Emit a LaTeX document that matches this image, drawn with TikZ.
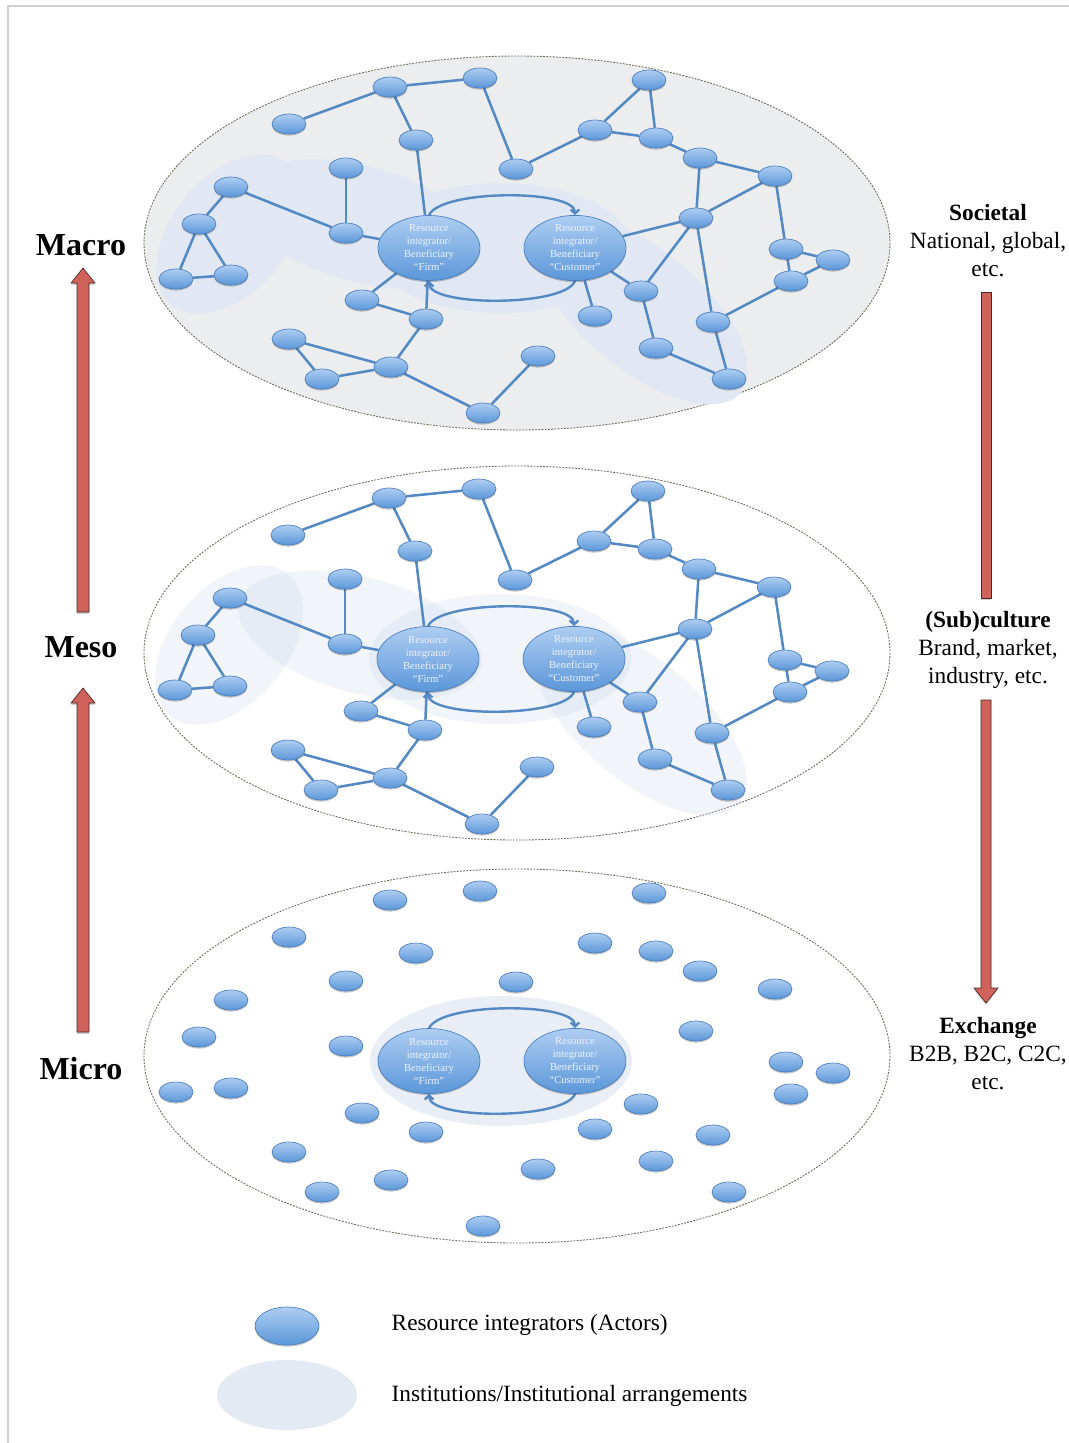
\documentclass[tikz,border=0pt]{standalone}
\usepackage{fontspec}
\setmainfont{Liberation Serif}
\usetikzlibrary{shapes.geometric, arrows.meta, shadows}

\definecolor{actTop}{HTML}{AECDF2}
\definecolor{actBot}{HTML}{5B97D9}
\definecolor{actEdge}{HTML}{4A7EBE}
\definecolor{linkBlue}{HTML}{5489C4}
\definecolor{labelWhite}{HTML}{EEF3FB}
\definecolor{macroGray}{HTML}{ECEDEF}
\definecolor{instBlue}{HTML}{E1E8F3}
\definecolor{instTint}{HTML}{C9D6EA}
\definecolor{legendInst}{HTML}{E4EAF4}
\definecolor{rimDash}{HTML}{6B6752}
\definecolor{levelRed}{HTML}{CF625A}
\definecolor{levelEdge}{HTML}{4A2A26}
\definecolor{frameGray}{HTML}{D0D0D0}

\pgfdeclarelayer{back}
\pgfdeclarelayer{wires}
\pgfsetlayers{back,wires,main}

\tikzset{
  actor/.style={ellipse, minimum width=25.5pt, minimum height=15pt, inner sep=0pt,
    draw=actEdge, line width=0.5pt, top color=actTop, bottom color=actBot,
    drop shadow={shadow xshift=0pt, shadow yshift=-1.2pt, fill=black, opacity=0.22}},
  integrator/.style={actor, minimum width=76.5pt, minimum height=45pt, align=center,
    font=\fontsize{8}{9.75}\selectfont, text=labelWhite},
  link/.style={draw=linkBlue, line width=1.9pt},
  cyclearc/.style={draw=linkBlue, line width=1.8pt, -{Straight Barb[length=3pt,width=6.5pt]}},
  rim/.style={draw=rimDash, line width=0.65pt, dash pattern=on 1.4pt off 1pt},
  instsolid/.style={fill=instBlue},
  insttint/.style={fill=instTint, fill opacity=0.25},
  levelarrow/.style={fill=levelRed, draw=levelEdge, line width=0.5pt,
    drop shadow={shadow xshift=0pt, shadow yshift=-1.5pt, fill=black, opacity=0.18}},
  heading/.style={font=\fontsize{24}{28}\selectfont\bfseries},
  scaletext/.style={align=center, font=\fontsize{17.5}{21}\selectfont},
  legendtext/.style={anchor=west, font=\fontsize{17.5}{21}\selectfont},
}

% actors of one level, in the level's own coordinates
\newcommand\placeactors[1]{%
  \foreach \n/\px/\py in {1/289/124, 2/390/87, 3/480/78, 4/649/80, 5/416/140,
      6/595/130, 7/656/138, 8/516/169, 9/700/158, 10/775/176, 11/346/168,
      12/231/187, 13/199/224, 14/346/233, 15/696/218, 16/176/279, 17/231/275,
      18/786/249, 19/833/260, 20/791/281, 21/641/291, 22/362/300, 23/426/319,
      24/595/316, 25/713/322, 26/289/339, 27/656/348, 28/322/379, 29/391/367,
      30/538/356, 31/729/379, 32/483/413}
    {\node[actor] (#1\n) at (\px,\py) {};}
  \node[integrator] (#1F) at (429,248) {Resource\\integrator/\\Beneficiary\\“Firm”};
  \node[integrator] (#1C) at (575,248) {Resource\\integrator/\\Beneficiary\\“Customer”};
}

% ties between actors
\newcommand\netlinks[1]{%
  \begin{pgfonlayer}{wires}
  \foreach \p/\q in {1/2, 2/3, 2/5, 3/8, 8/6, 6/4, 4/7, 6/7, 7/9, 9/10, 9/15,
      10/15, 10/18, 18/19, 18/20, 19/20, 20/25, 15/C, 15/21, 15/25, C/21, C/24,
      21/27, 27/31, 25/31, 5/F, 11/14, 12/14, 12/13, 13/16, 13/17, 16/17, 14/F,
      F/22, F/23, 22/23, 23/29, 26/29, 26/28, 28/29, 29/32, 32/30}
    {\draw[link] (#1\p) -- (#1\q);}
  \end{pgfonlayer}
}

% the exchange loop between firm and customer
\newcommand\tradearcs[1]{%
  \begin{pgfonlayer}{wires}
  \draw[cyclearc] (#1F.north) .. controls +(12,-26) and +(0,-26) .. (#1C.north);
  \draw[cyclearc] (#1C.south) .. controls +(-10,26) and +(0,26) .. (#1F.south);
  \end{pgfonlayer}
}

% institutional arrangements
\newcommand\instblobs[1]{%
  \fill[#1, rotate around={50:(230,234)}] (230,234) ellipse [x radius=92, y radius=58];
  \fill[#1, rotate around={-15:(361,224)}] (361,224) ellipse [x radius=125, y radius=58];
  \fill[#1] (501,248) ellipse [x radius=131, y radius=65];
  \fill[#1, rotate around={-40:(641,309)}] (641,309) ellipse [x radius=130, y radius=60];
}

\begin{document}
\begin{tikzpicture}[x=0.75pt, y=-0.75pt]
\useasboundingbox (0,0) rectangle (1069,1443);

\begin{pgfonlayer}{back}
  \fill[white] (0,0) rectangle (1069,1443);
  \draw[frameGray, line width=1.5pt] (1069,6) -- (8,6) -- (8,1443);
\end{pgfonlayer}

% ---- societal (macro) level
\begin{scope}
  \begin{pgfonlayer}{back}
    \path[fill=macroGray, rim] (517,243) ellipse [x radius=373, y radius=187];
    \instblobs{instsolid}
  \end{pgfonlayer}
  \placeactors{ma}
  \netlinks{ma}
  \tradearcs{ma}
\end{scope}

% ---- (sub)cultural (meso) level
\begin{scope}[shift={(-1,411)}]
  \begin{pgfonlayer}{back}
    \path[fill=white, rim] (518,242) ellipse [x radius=373, y radius=187];
    \instblobs{insttint}
  \end{pgfonlayer}
  \placeactors{me}
  \netlinks{me}
  \tradearcs{me}
\end{scope}

% ---- exchange (micro) level
\begin{scope}[shift={(0,813)}]
  \begin{pgfonlayer}{back}
    \path[fill=white, rim] (517,243) ellipse [x radius=373, y radius=187];
    \fill[instTint, fill opacity=0.4] (501,248) ellipse [x radius=131, y radius=65];
  \end{pgfonlayer}
  \placeactors{mi}
  \tradearcs{mi}
\end{scope}

% ---- level names
\node[heading] (macroLbl) at (81,245) {Macro};
\node[heading] (mesoLbl) at (81,647) {Meso};
\node[heading] (microLbl) at (81,1069) {Micro};

% upward arrows
\path[levelarrow] (77,612) -- (77,283) -- (71,283) -- (83,268) -- (95,283) -- (89,283) -- (89,612) -- cycle;
\path[levelarrow] (77,1032) -- (77,703) -- (71,703) -- (83,688) -- (95,703) -- (89,703) -- (89,1032) -- cycle;

% downward arrow on the right
\path[levelarrow] (981,292) rectangle (991,598);
\path[levelarrow] (981,700) -- (981,988) -- (974,988) -- (986,1003) -- (998,988) -- (991,988) -- (991,700) -- cycle;

\node[scaletext] (societal) at (988,241) {\textbf{Societal}\\National, global,\\etc.};
\node[scaletext] (subculture) at (988,650) {\textbf{(Sub)culture}\\Brand, market,\\industry, etc.};
\node[scaletext] (exchange) at (988,1054) {\textbf{Exchange}\\B2B, B2C, C2C,\\etc.};

% ---- legend
\node[actor, minimum width=48pt, minimum height=28.5pt] (legActor) at (287,1326) {};
\node[ellipse, fill=legendInst, minimum width=105pt, minimum height=52.5pt, inner sep=0pt] (legInst) at (287,1395) {};
\node[legendtext] (legActorTxt) at (387,1325) {Resource integrators (Actors)};
\node[legendtext] (legInstTxt) at (387,1396) {Institutions/Institutional arrangements};
\end{tikzpicture}
\end{document}
